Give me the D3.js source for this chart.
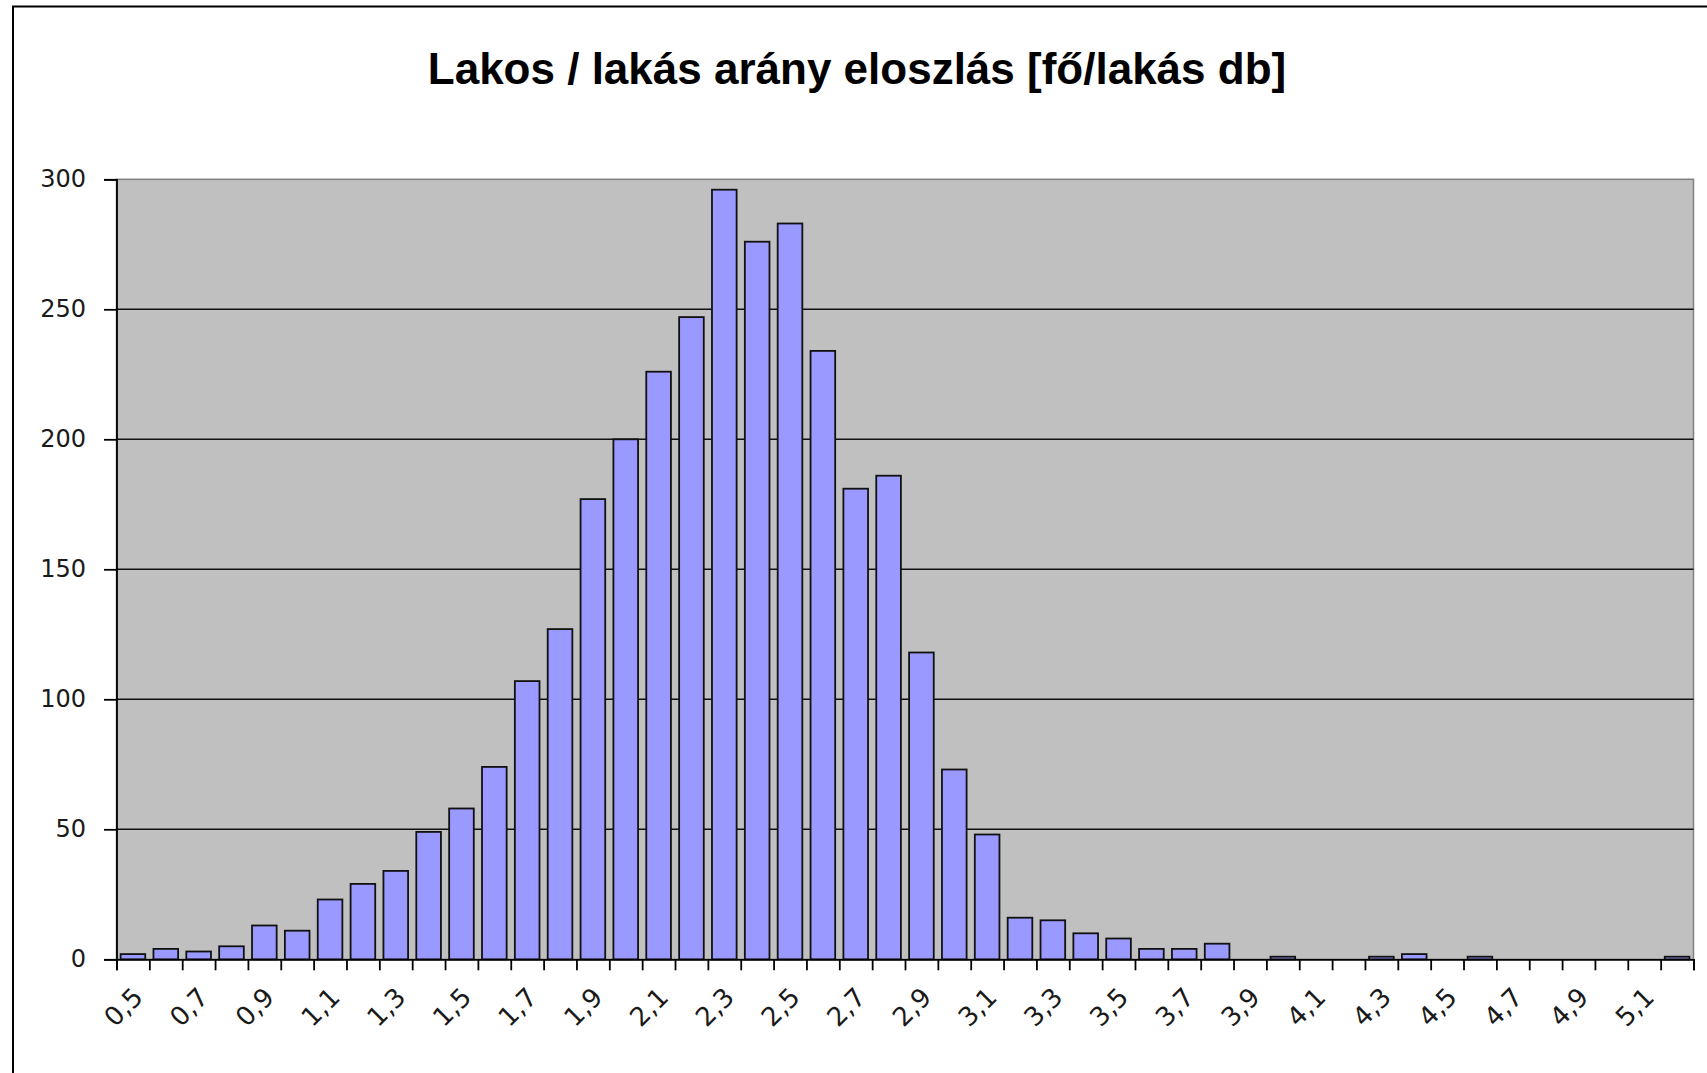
<!DOCTYPE html>
<html>
<head>
<meta charset="utf-8">
<script src="https://cdn.jsdelivr.net/npm/d3@7"></script>
<style>
  html, body { margin: 0; padding: 0; background: #ffffff; }
  svg { display: block; }
</style>
</head>
<body>
<svg id="chart" width="1707" height="1073"></svg>
<script>
const chartTitle = "Lakos / lakás arány eloszlás [fő/lakás db]";
const categories = ["0,5","0,6","0,7","0,8","0,9","1,0","1,1","1,2","1,3","1,4",
  "1,5","1,6","1,7","1,8","1,9","2,0","2,1","2,2","2,3","2,4",
  "2,5","2,6","2,7","2,8","2,9","3,0","3,1","3,2","3,3","3,4",
  "3,5","3,6","3,7","3,8","3,9","4,0","4,1","4,2","4,3","4,4",
  "4,5","4,6","4,7","4,8","4,9","5,0","5,1","5,2"];
const counts = [2,4,3,5,13,11,23,29,34,49,
  58,74,107,127,177,200,226,247,296,276,
  283,234,181,186,118,73,48,16,15,10,
  8,4,4,6,0,1,0,0,1,2,
  0,1,0,0,0,0,0,1];
const yTicks = [0,50,100,150,200,250,300];
const xLabelCategories = ["0,5","0,7","0,9","1,1","1,3","1,5","1,7","1,9","2,1","2,3",
  "2,5","2,7","2,9","3,1","3,3","3,5","3,7","3,9","4,1","4,3","4,5","4,7","4,9","5,1"];

const svg = d3.select("#chart");
const W = 1707, H = 1073;
const plot = { left: 116.5, right: 1693.5, top: 179.3, bottom: 959.3 };

// outer chart frame (only top/left visible in the picture)
svg.append("rect")
  .attr("x", 13).attr("y", 6.5)
  .attr("width", W + 20).attr("height", H + 20)
  .attr("fill", "#ffffff").attr("stroke", "#000").attr("stroke-width", 2);

// title
svg.append("text")
  .attr("x", 857).attr("y", 84)
  .attr("text-anchor", "middle")
  .attr("font-family", "'Liberation Sans', Arial, sans-serif")
  .attr("font-weight", "bold")
  .attr("font-size", 44)
  .attr("fill", "#000")
  .text(chartTitle);

const x = d3.scaleBand()
  .domain(categories)
  .range([plot.left, plot.right])
  .paddingInner(0.25)
  .paddingOuter(0.125);

const xIdx = d3.scaleLinear()
  .domain([0, categories.length])
  .range([plot.left, plot.right]);

const y = d3.scaleLinear()
  .domain([0, 300])
  .range([plot.bottom, plot.top]);

// plot background
svg.append("rect")
  .attr("x", plot.left).attr("y", plot.top)
  .attr("width", plot.right - plot.left)
  .attr("height", plot.bottom - plot.top)
  .attr("fill", "#c0c0c0")
  .attr("stroke", "#808080").attr("stroke-width", 1.5);

// gridlines
svg.append("g")
  .selectAll("line")
  .data(yTicks.filter(d => d > 0 && d < 300))
  .join("line")
  .attr("x1", plot.left).attr("x2", plot.right)
  .attr("y1", d => y(d)).attr("y2", d => y(d))
  .attr("stroke", "#111").attr("stroke-width", 1.6);

// bars
const data = categories.map((c, i) => ({ c, v: counts[i] }));
svg.append("g")
  .selectAll("rect")
  .data(data.filter(d => d.v > 0))
  .join("rect")
  .attr("x", d => x(d.c))
  .attr("y", d => y(d.v))
  .attr("width", x.bandwidth())
  .attr("height", d => y(0) - y(d.v))
  .attr("fill", "#9999ff")
  .attr("stroke", "#111")
  .attr("stroke-width", 1.8);

// y axis
const yAxis = svg.append("g")
  .attr("transform", `translate(${plot.left},0)`)
  .call(d3.axisLeft(y).tickValues(yTicks).tickSize(12.5).tickPadding(18).tickFormat(d3.format("d")));
yAxis.select(".domain").attr("stroke", "#000").attr("stroke-width", 1.8);
yAxis.selectAll(".tick line").attr("stroke", "#000").attr("stroke-width", 1.8);
yAxis.selectAll(".tick text")
  .attr("font-family", "'DejaVu Sans', Verdana, sans-serif")
  .attr("font-size", 24)
  .attr("fill", "#1a1a1a");

// x axis: ticks at category boundaries
const xAxis = svg.append("g")
  .attr("transform", `translate(0,${plot.bottom})`)
  .call(d3.axisBottom(xIdx).tickValues(d3.range(categories.length + 1)).tickSize(11).tickFormat(""));
xAxis.select(".domain").attr("stroke", "#000").attr("stroke-width", 1.8);
xAxis.selectAll(".tick line").attr("stroke", "#000").attr("stroke-width", 1.8);

// x labels (every other category), rotated
svg.append("g")
  .selectAll("text")
  .data(xLabelCategories)
  .join("text")
  .attr("transform", d => `translate(${x(d) + x.bandwidth() / 2 + 5},${plot.bottom + 33}) rotate(-45)`)
  .attr("text-anchor", "end")
  .attr("dy", "0.35em")
  .attr("font-family", "'DejaVu Sans', Verdana, sans-serif")
  .attr("font-size", 26)
  .attr("fill", "#1a1a1a")
  .text(d => d);
</script>
</body>
</html>
